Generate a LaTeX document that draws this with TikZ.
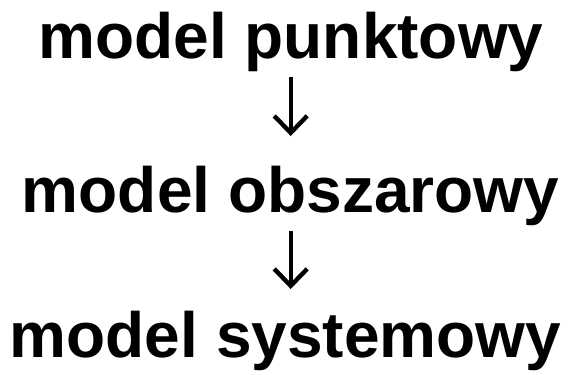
\documentclass[tikz,border=0pt]{standalone}
\usepackage{fontspec}
\setmainfont{Liberation Sans}
\usetikzlibrary{arrows.meta}
\tikzset{
  lbl/.style={anchor=base, inner sep=0pt, font=\fontsize{64bp}{70bp}\selectfont\bfseries},
  flow/.style={line width=4.4bp, -{Straight Barb[length=17bp,width=33bp]}}
}
\begin{document}
\begin{tikzpicture}[x=1bp,y=-1bp]
\useasboundingbox (0,0) rectangle (571,374);
\node[lbl] (a) at (291,58) {model punktowy};
\node[lbl] (b) at (290.5,212) {model obszarowy};
\node[lbl] (c) at (285.5,357) {model systemowy};
\coordinate (a1) at (290.7,77);
\coordinate (a2) at (290.7,136);
\coordinate (b1) at (290.7,231);
\coordinate (b2) at (290.7,289);
\draw[flow] (a1) -- (a2);
\draw[flow] (b1) -- (b2);
\end{tikzpicture}
\end{document}
